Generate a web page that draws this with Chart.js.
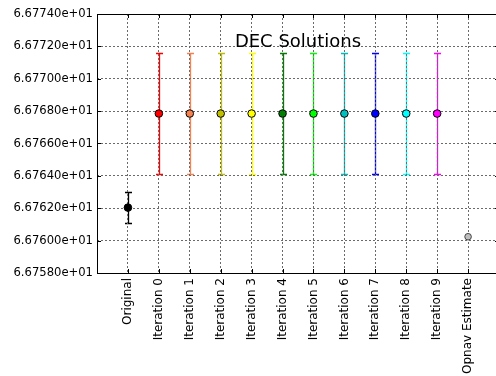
<!DOCTYPE html>
<html>
<head>
<meta charset="utf-8">
<script src="https://cdn.jsdelivr.net/npm/chart.js@4"></script>
<style>
  html, body { margin: 0; padding: 0; background: #ffffff; overflow: hidden; }
  #wrap { position: absolute; left: 0; top: 0; width: 504px; height: 376px; }
</style>
</head>
<body>
<div id="wrap"><canvas id="c" width="504" height="376"></canvas></div>
<script>
// Categories along the x axis
const categories = ['Original', 'Iteration 0', 'Iteration 1', 'Iteration 2', 'Iteration 3',
  'Iteration 4', 'Iteration 5', 'Iteration 6', 'Iteration 7', 'Iteration 8', 'Iteration 9',
  'Opnav Estimate'];

// DEC solution per category and its 1-sigma error
const decValues = [66.76204, 66.76785, 66.76785, 66.76785, 66.76785, 66.76785,
  66.76785, 66.76785, 66.76785, 66.76785, 66.76785, 66.76024];
const decErrors = [0.00095, 0.00371, 0.00371, 0.00371, 0.00371, 0.00371,
  0.00371, 0.00371, 0.00371, 0.00371, 0.00371, 0];

// Y axis ticks and their labels
const yTickValues = [66.7580, 66.7600, 66.7620, 66.7640, 66.7660, 66.7680, 66.7700, 66.7720, 66.7740];
const yTickLabels = ['6.67580e+01', '6.67600e+01', '6.67620e+01', '6.67640e+01', '6.67660e+01',
  '6.67680e+01', '6.67700e+01', '6.67720e+01', '6.67740e+01'];

// Marker / error bar colours per category
const seriesColors = ['#000000', '#ff0000', '#f5824f', '#bfbf00', '#ffff00', '#007f00',
  '#00ff00', '#00bfbf', '#0000ff', '#00ffff', '#ff00ff', '#bfbfbf'];
const barColors = ['#000000', '#ff0000', '#f5824f', '#bfbf00', '#ffff00', '#007f00',
  '#00ff00', '#00bfbf', '#0000ff', '#00ffff', '#ff00ff', '#888888'];

const FONT = 'DejaVu Sans';

// Error bars go under the grid, so they are painted first
const errorBars = {
  id: 'errorBars',
  beforeDraw(chart) {
    const { ctx, scales: { x, y } } = chart;
    ctx.save();
    decValues.forEach((v, i) => {
      const e = decErrors[i];
      if (!e) return;
      const px = Math.round(x.getPixelForValue(i)) + 0.5;
      const top = Math.round(y.getPixelForValue(v + e)) + 0.5;
      const bot = Math.round(y.getPixelForValue(v - e)) + 0.5;
      ctx.strokeStyle = barColors[i];
      ctx.lineWidth = 1.3;
      ctx.beginPath();
      ctx.moveTo(px, top); ctx.lineTo(px, bot);
      ctx.moveTo(px - 3.5, top); ctx.lineTo(px + 3.5, top);
      ctx.moveTo(px - 3.5, bot); ctx.lineTo(px + 3.5, bot);
      ctx.stroke();
    });
    ctx.restore();
  }
};

// Frame, inward tick marks and the title drawn inside the axes
const frame = {
  id: 'frame',
  afterDraw(chart) {
    const { ctx, chartArea: a, scales: { x, y } } = chart;
    ctx.save();
    ctx.strokeStyle = '#000000';
    ctx.lineWidth = 1;
    ctx.strokeRect(a.left + 0.5, a.top + 0.5, a.right - a.left, a.bottom - a.top);
    ctx.beginPath();
    categories.forEach((c, i) => {
      const px = Math.round(x.getPixelForValue(i)) + 0.5;
      ctx.moveTo(px, a.top); ctx.lineTo(px, a.top + 4);
      ctx.moveTo(px, a.bottom); ctx.lineTo(px, a.bottom - 4);
    });
    yTickValues.forEach(v => {
      const py = Math.round(y.getPixelForValue(v)) + 0.5;
      ctx.moveTo(a.left, py); ctx.lineTo(a.left + 4, py);
      ctx.moveTo(a.right, py); ctx.lineTo(a.right - 4, py);
    });
    ctx.stroke();
    ctx.fillStyle = '#000000';
    ctx.font = '18px "' + FONT + '"';
    ctx.textAlign = 'center';
    ctx.textBaseline = 'alphabetic';
    ctx.fillText('DEC Solutions', (a.left + a.right) / 2, 47);
    ctx.restore();
  }
};

new Chart(document.getElementById('c'), {
  type: 'scatter',
  data: {
    datasets: [{
      data: decValues.map((v, i) => ({ x: i, y: v })),
      pointRadius: decValues.map((v, i) => i === decValues.length - 1 ? 3.3 : 3.8),
      pointBackgroundColor: seriesColors,
      pointBorderColor: decValues.map((v, i) => i === decValues.length - 1 ? '#444444' : '#000000'),
      pointBorderWidth: 1,
      showLine: false
    }]
  },
  options: {
    responsive: false,
    animation: false,
    layout: { padding: { top: 14, right: 4, left: 0, bottom: 0 } },
    plugins: { legend: { display: false }, tooltip: { enabled: false }, title: { display: false } },
    scales: {
      x: {
        type: 'linear',
        min: -1,
        max: categories.length,
        afterBuildTicks(scale) { scale.ticks = categories.map((c, i) => ({ value: i })); },
        afterFit(scale) { scale.height = 103; },
        border: { display: false, dash: [2, 2] },
        grid: { color: '#6a6a6a', lineWidth: 1, drawTicks: false },
        ticks: {
          autoSkip: false,
          maxRotation: 90,
          minRotation: 90,
          padding: 5,
          color: '#000000',
          font: { family: FONT, size: 12 },
          callback: (v) => categories[v]
        }
      },
      y: {
        min: yTickValues[0],
        max: yTickValues[yTickValues.length - 1],
        afterBuildTicks(scale) { scale.ticks = yTickValues.map(v => ({ value: v })); },
        afterFit(scale) { scale.width = 97; },
        border: { display: false, dash: [2, 2] },
        grid: { color: '#6a6a6a', lineWidth: 1, drawTicks: false },
        ticks: {
          padding: 4,
          color: '#000000',
          font: { family: FONT, size: 11.6 },
          callback: (v) => yTickLabels[yTickValues.findIndex(t => Math.abs(t - v) < 1e-9)]
        }
      }
    }
  },
  plugins: [errorBars, frame]
});
</script>
</body>
</html>
